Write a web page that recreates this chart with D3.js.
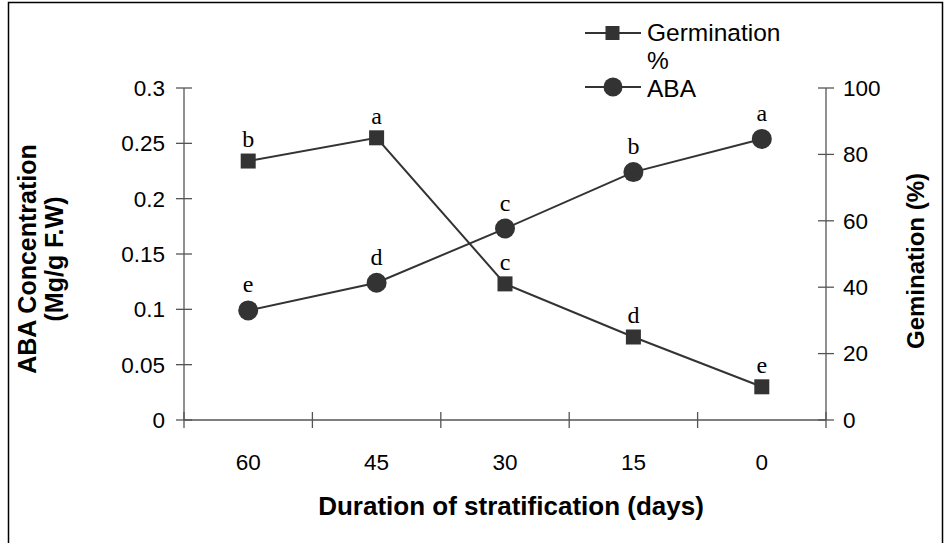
<!DOCTYPE html>
<html>
<head>
<meta charset="utf-8">
<script src="https://cdn.jsdelivr.net/npm/d3@7"></script>
<style>
  html, body { margin: 0; padding: 0; background: #fff; }
  svg { display: block; }
</style>
</head>
<body>
<svg id="chart" width="946" height="543"></svg>
<script>
const categories = ["60", "45", "30", "15", "0"];
const abaValues = [0.099, 0.124, 0.173, 0.224, 0.254];
const abaLetters = ["e", "d", "c", "b", "a"];
const germValues = [78, 85, 41, 25, 10];
const germLetters = ["b", "a", "c", "d", "e"];
const leftTicks = [0, 0.05, 0.1, 0.15, 0.2, 0.25, 0.3];
const rightTicks = [0, 20, 40, 60, 80, 100];

const svg = d3.select("#chart");
const m = { left: 184, right: 826, top: 88, bottom: 420 };
const ink = "#333";
const axisCol = "#555";

svg.append("rect").attr("x", 8.5).attr("y", 2.5).attr("width", 934).attr("height", 545)
  .attr("fill", "none").attr("stroke", "#000").attr("stroke-width", 1.5);

const x = d3.scaleBand().domain(categories).range([m.left, m.right]).padding(0);
const yL = d3.scaleLinear().domain([0, 0.3]).range([m.bottom, m.top]);
const yR = d3.scaleLinear().domain([0, 100]).range([m.bottom, m.top]);
const cx = d => x(d) + x.bandwidth() / 2;

const font = "Liberation Sans, Arial, sans-serif";
const tickSize = 22.5, titleSize = 25;

// Left axis
const gL = svg.append("g").attr("transform", `translate(${m.left},0)`);
gL.append("line").attr("y1", m.top).attr("y2", m.bottom).attr("stroke", axisCol).attr("stroke-width", 1.3);
gL.selectAll("line.t").data(leftTicks).join("line").attr("class", "t")
  .attr("x1", -8).attr("x2", 8).attr("y1", d => yL(d)).attr("y2", d => yL(d))
  .attr("stroke", axisCol).attr("stroke-width", 1.3);
gL.selectAll("text").data(leftTicks).join("text")
  .attr("x", -19).attr("y", d => yL(d)).attr("dy", "0.35em")
  .attr("text-anchor", "end").attr("font-family", font).attr("font-size", tickSize)
  .text(d => d3.format("~g")(d));

// Right axis
const gR = svg.append("g").attr("transform", `translate(${m.right},0)`);
gR.append("line").attr("y1", m.top).attr("y2", m.bottom).attr("stroke", axisCol).attr("stroke-width", 1.3);
gR.selectAll("line.t").data(rightTicks).join("line").attr("class", "t")
  .attr("x1", -8).attr("x2", 8).attr("y1", d => yR(d)).attr("y2", d => yR(d))
  .attr("stroke", axisCol).attr("stroke-width", 1.3);
gR.selectAll("text").data(rightTicks).join("text")
  .attr("x", 17).attr("y", d => yR(d)).attr("dy", "0.35em")
  .attr("text-anchor", "start").attr("font-family", font).attr("font-size", tickSize)
  .text(d => d);

// X axis
const gX = svg.append("g").attr("transform", `translate(0,${m.bottom})`);
gX.append("line").attr("x1", m.left).attr("x2", m.right).attr("stroke", axisCol).attr("stroke-width", 1.3);
const bounds = categories.map(c => x(c)).concat([m.right]);
gX.selectAll("line.t").data(bounds).join("line").attr("class", "t")
  .attr("x1", d => d).attr("x2", d => d).attr("y1", -8).attr("y2", 8)
  .attr("stroke", axisCol).attr("stroke-width", 1.3);
gX.selectAll("text").data(categories).join("text")
  .attr("x", d => cx(d)).attr("y", 50)
  .attr("text-anchor", "middle").attr("font-family", font).attr("font-size", tickSize)
  .text(d => d);

// Axis titles
svg.append("text").attr("x", 511).attr("y", 515).attr("text-anchor", "middle")
  .attr("font-family", font).attr("font-weight", "bold").attr("font-size", 26)
  .text("Duration of stratification (days)");
const lt = svg.append("text").attr("transform", "translate(0,259) rotate(-90)")
  .attr("text-anchor", "middle").attr("font-family", font).attr("font-weight", "bold").attr("font-size", titleSize);
lt.append("tspan").attr("x", 0).attr("y", 36).text("ABA Concentration");
lt.append("tspan").attr("x", 0).attr("y", 63).text("(Mg/g F.W)");
svg.append("text").attr("transform", "translate(924,261) rotate(-90)")
  .attr("text-anchor", "middle").attr("font-family", font).attr("font-weight", "bold").attr("font-size", 24)
  .text("Gemination (%)");

// Lines
const lineL = d3.line().x((d, i) => cx(categories[i])).y(d => yL(d));
const lineR = d3.line().x((d, i) => cx(categories[i])).y(d => yR(d));
svg.append("path").attr("d", lineL(abaValues)).attr("fill", "none").attr("stroke", ink).attr("stroke-width", 2);
svg.append("path").attr("d", lineR(germValues)).attr("fill", "none").attr("stroke", ink).attr("stroke-width", 2);

// Markers
svg.selectAll("circle.aba").data(abaValues).join("circle").attr("class", "aba")
  .attr("cx", (d, i) => cx(categories[i])).attr("cy", d => yL(d)).attr("r", 10).attr("fill", ink);
svg.selectAll("rect.germ").data(germValues).join("rect").attr("class", "germ")
  .attr("x", (d, i) => cx(categories[i]) - 7.5).attr("y", d => yR(d) - 7.5)
  .attr("width", 15).attr("height", 15).attr("fill", ink);

// Letters
const serif = "Liberation Serif, Times New Roman, serif";
svg.selectAll("text.la").data(abaValues).join("text").attr("class", "la")
  .attr("x", (d, i) => cx(categories[i])).attr("y", d => yL(d) - 18)
  .attr("text-anchor", "middle").attr("font-family", serif).attr("font-size", 24)
  .text((d, i) => abaLetters[i]);
svg.selectAll("text.lg").data(germValues).join("text").attr("class", "lg")
  .attr("x", (d, i) => cx(categories[i])).attr("y", d => yR(d) - 14)
  .attr("text-anchor", "middle").attr("font-family", serif).attr("font-size", 24)
  .text((d, i) => germLetters[i]);

// Legend
const legSize = 24.5;
const leg = svg.append("g");
leg.append("line").attr("x1", 585).attr("x2", 641).attr("y1", 33).attr("y2", 33).attr("stroke", ink).attr("stroke-width", 2);
leg.append("rect").attr("x", 605.5).attr("y", 26).attr("width", 14).attr("height", 14).attr("fill", ink);
leg.append("text").attr("x", 647).attr("y", 41).attr("font-family", font).attr("font-size", legSize).text("Germination");
leg.append("text").attr("x", 647).attr("y", 69).attr("font-family", font).attr("font-size", legSize).text("%");
leg.append("line").attr("x1", 585).attr("x2", 641).attr("y1", 87).attr("y2", 87).attr("stroke", ink).attr("stroke-width", 2);
leg.append("circle").attr("cx", 613).attr("cy", 87).attr("r", 9.5).attr("fill", ink);
leg.append("text").attr("x", 647).attr("y", 97).attr("font-family", font).attr("font-size", legSize).text("ABA");
</script>
</body>
</html>
